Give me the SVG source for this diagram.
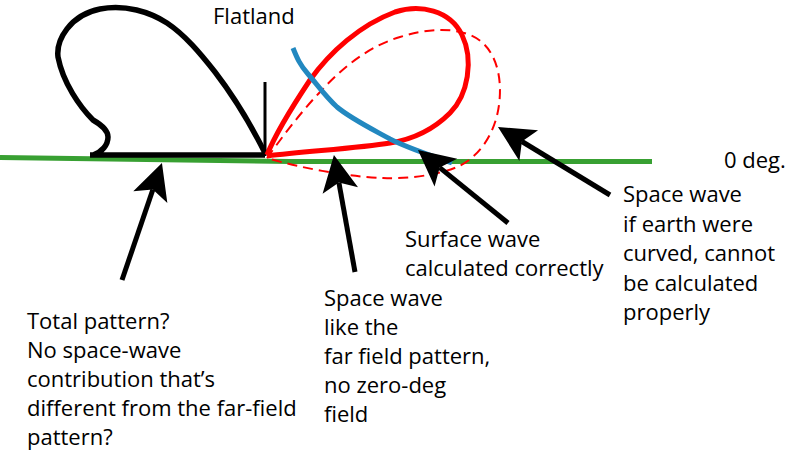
<svg xmlns="http://www.w3.org/2000/svg" width="787" height="454" viewBox="0 0 787 454">
<style>
.t{font-family:"Open Sans","Noto Sans","Liberation Sans",sans-serif;font-size:22px;fill:#000}
.arr{fill:none;stroke:#000;stroke-width:5;marker-end:url(#ah)}
</style>
<defs>
<marker id="ah" markerUnits="userSpaceOnUse" markerWidth="36" markerHeight="36" viewBox="0 0 36 36" refX="8" refY="18" orient="auto" overflow="visible">
<path d="M36,18 L0,0 L8,18 L0,36 Z" fill="#000"/>
</marker>
</defs>
<rect width="787" height="454" fill="#fff"/>
<g id="ground">
<polyline points="0,157.5 290,161.5 652,161.5" fill="none" stroke="#38a032" stroke-width="5"/>
</g>
<g id="total-pattern">
<path d="M90,155 L265,155 M93,155 C102,152 108,145 108,137 C108,130 100,124 93,120 C80,107 63,83 58,57 C56,40 70,15 100,9 C125,4 150,12 167,23 C185,35 200,53 215,72 C235,98 252,127 265,153" fill="none" stroke="#000" stroke-width="5.5" stroke-linejoin="round"/>
<line x1="265" y1="82" x2="265" y2="156" stroke="#000" stroke-width="3"/>
</g>
<g id="space-wave-dashed">
<path d="M267,158 C280,140 300,113 320,92 C345,65 370,46 400,37 C425,29 450,27 470,35 C495,45 503,75 499,105 C495,135 478,158 457,167 C435,176 405,179 383,178 C350,177 300,168 267,158" fill="none" stroke="#ff0000" stroke-width="2" stroke-dasharray="10 6"/>
</g>
<g id="space-wave">
<path d="M267,155 C275,135 290,110 310,80 C330,52 360,25 395,12 C420,4 450,10 462,35 C474,60 468,95 450,113 C435,128 415,139 390,143 C360,148 310,151 267,156" fill="none" stroke="#ff0000" stroke-width="5" stroke-linejoin="round"/>
</g>
<g id="surface-wave">
<path d="M293,48 C297,58 300,65 308,74 C316,83 325,96 337,107 C350,118 370,128 390,139 C410,149 430,155 452,163" fill="none" stroke="#2288c0" stroke-width="5"/>
</g>
<g id="connectors">
<path class="arr" d="M122,280 L152.9,189.5"/>
<path class="arr" d="M355,272 L338.9,182.6"/>
<path class="arr" d="M508,223 L439.7,167.6"/>
<path class="arr" d="M610,195 L521.9,141.5"/>
</g>
<g id="label-flatland"><text class="t" x="213" y="23.5">Flatland</text></g>
<g id="label-0deg"><text class="t" x="724" y="168">0 deg.</text></g>
<g id="label-total">
<text class="t" x="27" y="329">Total pattern?</text>
<text class="t" x="27" y="358">No space-wave</text>
<text class="t" x="27" y="387">contribution that’s</text>
<text class="t" x="27" y="416">different from the far-field</text>
<text class="t" x="27" y="445">pattern?</text>
</g>
<g id="label-space">
<text class="t" x="324" y="306">Space wave</text>
<text class="t" x="324" y="335">like the</text>
<text class="t" x="324" y="364">far field pattern,</text>
<text class="t" x="324" y="393">no zero-deg</text>
<text class="t" x="324" y="422">field</text>
</g>
<g id="label-surface">
<text class="t" x="405" y="247">Surface wave</text>
<text class="t" x="405" y="276">calculated correctly</text>
</g>
<g id="label-curved">
<text class="t" x="623" y="202">Space wave</text>
<text class="t" x="623" y="232">if earth were</text>
<text class="t" x="623" y="261">curved, cannot</text>
<text class="t" x="623" y="291">be calculated</text>
<text class="t" x="623" y="320">properly</text>
</g>
</svg>
